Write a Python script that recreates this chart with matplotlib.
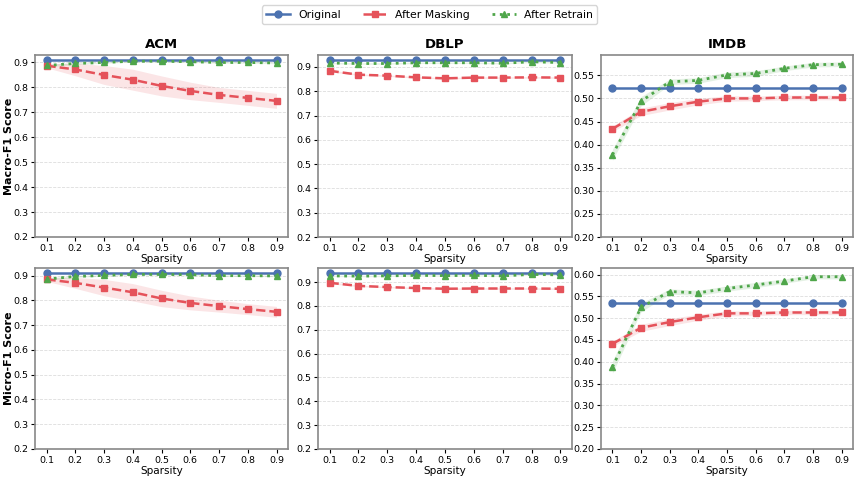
import numpy as np
import matplotlib
matplotlib.use("Agg")
import matplotlib.pyplot as plt
from matplotlib.ticker import MultipleLocator, FormatStrFormatter

sparsity = [0.1, 0.2, 0.3, 0.4, 0.5, 0.6, 0.7, 0.8, 0.9]
datasets = ["ACM", "DBLP", "IMDB"]

# Macro-F1
acm_macro_orig = [0.910] * 9
acm_macro_mask = [0.887, 0.872, 0.850, 0.831, 0.806, 0.786, 0.770, 0.758, 0.746]
acm_macro_mask_std = [0.008, 0.025, 0.038, 0.042, 0.040, 0.035, 0.030, 0.030, 0.030]
acm_macro_retr = [0.888, 0.896, 0.900, 0.905, 0.905, 0.903, 0.900, 0.900, 0.898]
acm_macro_retr_std = [0.005, 0.004, 0.003, 0.003, 0.003, 0.003, 0.003, 0.003, 0.003]

dblp_macro_orig = [0.929] * 9
dblp_macro_mask = [0.884, 0.868, 0.864, 0.857, 0.853, 0.856, 0.856, 0.857, 0.856]
dblp_macro_mask_std = [0.004, 0.003, 0.003, 0.003, 0.003, 0.003, 0.003, 0.003, 0.003]
dblp_macro_retr = [0.916, 0.914, 0.914, 0.917, 0.917, 0.917, 0.915, 0.921, 0.918]
dblp_macro_retr_std = [0.003, 0.003, 0.003, 0.003, 0.003, 0.003, 0.003, 0.003, 0.003]

imdb_macro_orig = [0.522] * 9
imdb_macro_mask = [0.434, 0.471, 0.483, 0.493, 0.500, 0.500, 0.502, 0.502, 0.502]
imdb_macro_mask_std = [0.006, 0.008, 0.008, 0.007, 0.006, 0.005, 0.005, 0.005, 0.005]
imdb_macro_retr = [0.378, 0.494, 0.536, 0.539, 0.551, 0.554, 0.565, 0.573, 0.574]
imdb_macro_retr_std = [0.012, 0.010, 0.006, 0.006, 0.006, 0.006, 0.005, 0.005, 0.005]

# Micro-F1
acm_micro_orig = [0.911] * 9
acm_micro_mask = [0.885, 0.871, 0.852, 0.833, 0.808, 0.790, 0.777, 0.765, 0.754]
acm_micro_mask_std = [0.008, 0.022, 0.033, 0.035, 0.033, 0.028, 0.024, 0.022, 0.022]
acm_micro_retr = [0.886, 0.897, 0.901, 0.905, 0.905, 0.904, 0.900, 0.900, 0.899]
acm_micro_retr_std = [0.005, 0.004, 0.003, 0.003, 0.003, 0.003, 0.003, 0.003, 0.003]

dblp_micro_orig = [0.939] * 9
dblp_micro_mask = [0.897, 0.884, 0.879, 0.875, 0.872, 0.873, 0.873, 0.873, 0.872]
dblp_micro_mask_std = [0.004, 0.003, 0.003, 0.003, 0.003, 0.003, 0.003, 0.003, 0.003]
dblp_micro_retr = [0.926, 0.925, 0.926, 0.928, 0.927, 0.928, 0.926, 0.932, 0.930]
dblp_micro_retr_std = [0.003, 0.003, 0.003, 0.003, 0.003, 0.003, 0.003, 0.003, 0.003]

imdb_micro_orig = [0.535] * 9
imdb_micro_mask = [0.441, 0.478, 0.491, 0.502, 0.511, 0.511, 0.513, 0.513, 0.513]
imdb_micro_mask_std = [0.006, 0.008, 0.008, 0.007, 0.006, 0.005, 0.005, 0.005, 0.005]
imdb_micro_retr = [0.388, 0.525, 0.561, 0.558, 0.568, 0.576, 0.585, 0.595, 0.595]
imdb_micro_retr_std = [0.014, 0.010, 0.006, 0.006, 0.006, 0.006, 0.005, 0.005, 0.005]

rows = [
    [(acm_macro_orig, acm_macro_mask, acm_macro_mask_std, acm_macro_retr, acm_macro_retr_std),
     (dblp_macro_orig, dblp_macro_mask, dblp_macro_mask_std, dblp_macro_retr, dblp_macro_retr_std),
     (imdb_macro_orig, imdb_macro_mask, imdb_macro_mask_std, imdb_macro_retr, imdb_macro_retr_std)],
    [(acm_micro_orig, acm_micro_mask, acm_micro_mask_std, acm_micro_retr, acm_micro_retr_std),
     (dblp_micro_orig, dblp_micro_mask, dblp_micro_mask_std, dblp_micro_retr, dblp_micro_retr_std),
     (imdb_micro_orig, imdb_micro_mask, imdb_micro_mask_std, imdb_micro_retr, imdb_micro_retr_std)],
]
row_labels = ["Macro-F1 Score", "Micro-F1 Score"]

c_orig = "#4C72B0"
c_mask = "#E5525A"
c_retr = "#4FA64A"

W, H = 859, 478
col_px = [(35, 288), (318, 572), (601, 853)]
row_px = [(55, 237), (268, 449)]

fig = plt.figure(figsize=(8.59, 4.78), dpi=100)

x = np.array(sparsity)
first = None
for r in range(2):
    for c in range(3):
        l, rr = col_px[c]
        t, b = row_px[r]
        ax = fig.add_axes([l / W, 1 - b / H, (rr - l) / W, (b - t) / H])
        if first is None:
            first = ax
        orig, mask, mask_std, retr, retr_std = [np.array(v) for v in rows[r][c]]
        ax.plot(x, orig, '-', color=c_orig, marker='o', markersize=5, linewidth=1.8, label="Original")
        ax.fill_between(x, mask - mask_std, mask + mask_std, color=c_mask, alpha=0.15, linewidth=0)
        ax.plot(x, mask, '--', color=c_mask, marker='s', markersize=5, linewidth=1.8, label="After Masking")
        ax.fill_between(x, retr - retr_std, retr + retr_std, color=c_retr, alpha=0.15, linewidth=0)
        ax.plot(x, retr, ':', color=c_retr, marker='^', markersize=5, linewidth=2.0, label="After Retrain")
        top = max(orig.max(), mask.max(), retr.max()) + 0.02
        ax.set_ylim(0.2, top)
        ax.set_xlim(0.06, 0.94)
        ax.set_xticks(sparsity)
        if c == 2:
            ax.yaxis.set_major_locator(MultipleLocator(0.05))
            ax.yaxis.set_major_formatter(FormatStrFormatter('%.2f'))
        else:
            ax.yaxis.set_major_locator(MultipleLocator(0.1))
            ax.yaxis.set_major_formatter(FormatStrFormatter('%.1f'))
        ax.tick_params(labelsize=6.8, length=3, pad=2)
        ax.grid(axis='y', linestyle='--', color='#dddddd', linewidth=0.6)
        ax.set_axisbelow(True)
        for s in ax.spines.values():
            s.set_color('#888888')
            s.set_linewidth(1.2)
        ax.set_xlabel("Sparsity", fontsize=7.5, labelpad=1)
        if r == 0:
            ax.set_title(datasets[c], fontsize=9.5, fontweight='bold', pad=5)
        if c == 0:
            ax.set_ylabel(row_labels[r], fontsize=8, fontweight='bold')
            ax.yaxis.set_label_coords(-0.084, 0.5)

handles, labels = first.get_legend_handles_labels()
fig.legend(handles, labels, loc='upper center', ncol=3, bbox_to_anchor=(0.5, 1.0),
           fontsize=7.8, frameon=True, handlelength=2.2, columnspacing=2.0)

fig.savefig("out.png", dpi=100)
